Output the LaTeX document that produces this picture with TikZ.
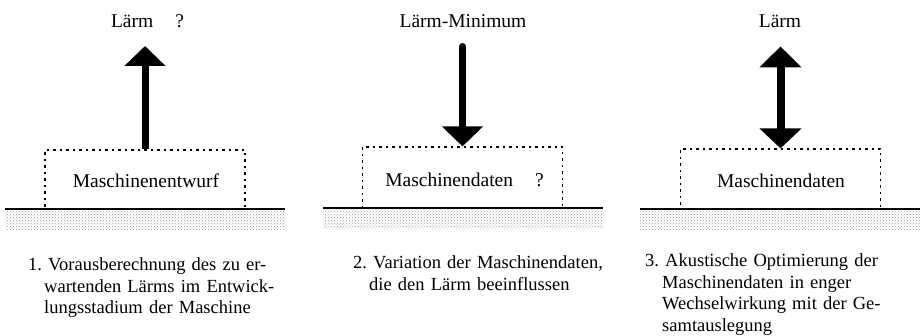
\documentclass[tikz,border=0pt]{standalone}
\usepackage{fontspec}
\setmainfont{Liberation Serif}
\usetikzlibrary{arrows.meta,patterns}
\begin{document}
\begin{tikzpicture}[x=1pt,y=-1pt,
  txt/.style={font=\fontsize{19.5}{21.5}\selectfont, inner sep=0pt},
  captxt/.style={font=\fontsize{18.5}{21.5}\selectfont, inner sep=0pt, anchor=base west, text width=320pt, align=left},
  mbox/.style={draw, line width=1.2pt, dash pattern=on 2.5pt off 4pt, minimum width=200pt, inner sep=0pt},
  ground/.style={line width=2.5pt},
  band/.style={pattern=crosshatch dots, pattern color=black!40},
  bigarrow/.style={line width=7pt, -{Triangle[width=40pt,length=20pt]}},
  dblarrow/.style={line width=8pt, {Triangle[width=41pt,length=21pt]}-{Triangle[width=41pt,length=20pt]}}
]
\useasboundingbox (0,0) rectangle (920,336);

% ---------- panel 1 ----------
\fill[band] (5,210) rectangle (285,230);
\draw[ground] (5,209) -- (285,209);
\node[mbox, minimum height=59pt] (b1) at (145,179.5) {};
\node[txt, anchor=base] (m1) at (146,188) {Maschinenentwurf};
\node[txt, anchor=base] (l1) at (147.5,28) {Lärm\hspace{22pt}?};
\coordinate (t1) at (145,46);
\draw[bigarrow] (b1.north) -- (t1);
\node[captxt] (c1) at (28,271) {1.\ Vorausberechnung des zu er-\\\hspace*{16pt}wartenden Lärms im Entwick-\\\hspace*{16pt}lungsstadium der Maschine};

% ---------- panel 2 ----------
\fill[band] (323,209) rectangle (603,229);
\draw[ground] (323,208) -- (603,208);
\node[mbox, minimum height=61pt] (b2) at (462.5,177.5) {};
\node[txt, anchor=base] (m2) at (464.5,187) {Maschinendaten\hspace{22pt}?};
\node[txt, anchor=base] (l2) at (463,28) {Lärm-Minimum};
\coordinate (s2) at (462.5,46.5);
\draw[bigarrow, line cap=round] (s2) -- (b2.north);
\node[captxt] (c2) at (353,269) {2.\ Variation der Maschinendaten,\\\hspace*{16pt}die den Lärm beeinflussen};

% ---------- panel 3 ----------
\fill[band] (640,210) rectangle (920,230);
\draw[ground] (640,209) -- (920,209);
\node[mbox, minimum height=60pt] (b3) at (780.5,179) {};
\node[txt, anchor=base] (m3) at (781,188) {Maschinendaten};
\node[txt, anchor=base] (l3) at (780,28) {Lärm};
\coordinate (t3) at (780.5,46.5);
\draw[dblarrow] (t3) -- (b3.north);
\node[captxt] (c3) at (645,267) {3.\ Akustische Optimierung der\\\hspace*{17pt}Maschinendaten in enger\\\hspace*{17pt}Wechselwirkung mit der Ge-\\\hspace*{17pt}samtauslegung};
\end{tikzpicture}
\end{document}
